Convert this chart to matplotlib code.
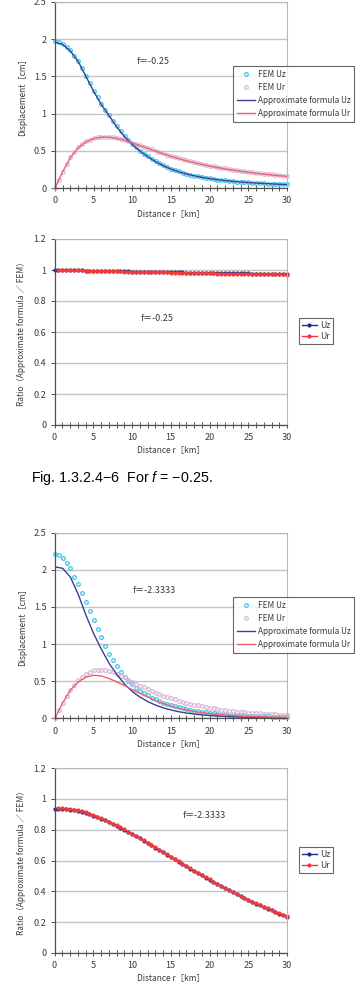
"""
Displacement comparison: FEM vs approximate formula, for f = -0.25 and f = -2.3333
"""

import numpy as np
import matplotlib
matplotlib.use("Agg")
import matplotlib.pyplot as plt

plt.rcParams["font.family"] = ["Noto Sans CJK JP", "DejaVu Sans"]
plt.rcParams["mathtext.fontset"] = "custom"
plt.rcParams["mathtext.rm"] = "Liberation Sans"
plt.rcParams["mathtext.it"] = "Liberation Sans:italic"

# distance grids (km)
DIST_FEM = np.arange(0, 30.5, 0.5)
DIST_APX = np.arange(0, 31, 1.0)

# ---- f = -0.25 ----
fem_uz_a = [1.97, 1.96, 1.94, 1.90, 1.85, 1.78, 1.71, 1.61, 1.51, 1.41,
            1.31, 1.22, 1.13, 1.05, 0.98, 0.90, 0.83, 0.76, 0.70, 0.645,
            0.59, 0.545, 0.50, 0.46, 0.425, 0.39, 0.36, 0.33, 0.305, 0.28,
            0.258, 0.24, 0.222, 0.207, 0.192, 0.179, 0.167, 0.156, 0.146, 0.137,
            0.129, 0.121, 0.114, 0.108, 0.102, 0.097, 0.092, 0.087, 0.083, 0.079,
            0.075, 0.072, 0.068, 0.065, 0.062, 0.059, 0.057, 0.054, 0.052, 0.050, 0.048]
fem_ur_a = [0.0, 0.11, 0.22, 0.32, 0.41, 0.48, 0.545, 0.59, 0.625, 0.65,
            0.67, 0.68, 0.687, 0.69, 0.687, 0.68, 0.67, 0.657, 0.643, 0.627,
            0.61, 0.592, 0.574, 0.556, 0.537, 0.519, 0.50, 0.483, 0.465, 0.448,
            0.432, 0.416, 0.401, 0.386, 0.372, 0.359, 0.346, 0.334, 0.322, 0.311,
            0.30, 0.29, 0.281, 0.272, 0.263, 0.255, 0.247, 0.239, 0.232, 0.225,
            0.218, 0.211, 0.205, 0.199, 0.193, 0.188, 0.182, 0.177, 0.172, 0.167, 0.162]
apx_uz_a = [1.96, 1.93, 1.84, 1.70, 1.50, 1.30, 1.12, 0.97, 0.82, 0.69,
            0.585, 0.495, 0.42, 0.355, 0.30, 0.254, 0.218, 0.188, 0.164, 0.143,
            0.126, 0.111, 0.099, 0.089, 0.080, 0.073, 0.066, 0.060, 0.055, 0.050, 0.046]
apx_ur_a = [0.0, 0.22, 0.41, 0.54, 0.62, 0.665, 0.683, 0.682, 0.667, 0.642,
            0.605, 0.57, 0.532, 0.495, 0.46, 0.425, 0.395, 0.366, 0.34, 0.316,
            0.295, 0.275, 0.257, 0.24, 0.225, 0.211, 0.198, 0.186, 0.175, 0.165, 0.156]
rat_uz_a = [1.000, 1.000, 0.999, 0.999, 0.998, 0.998, 0.997, 0.997, 0.996, 0.996,
            0.995, 0.995, 0.994, 0.994, 0.993, 0.993, 0.992, 0.992, 0.991, 0.991,
            0.990, 0.990, 0.989, 0.989, 0.988, 0.988, 0.987, 0.987, 0.986, 0.986,
            0.985, 0.985, 0.984, 0.984, 0.983, 0.983, 0.982, 0.982, 0.982, 0.981,
            0.981, 0.981, 0.980, 0.980, 0.980, 0.979, 0.979, 0.979, 0.978, 0.978,
            0.978, 0.977, 0.977, 0.977, 0.977, 0.976, 0.976, 0.976, 0.976, 0.975, 0.975]
rat_ur_a = [1.000, 0.999, 0.999, 0.998, 0.998, 0.997, 0.997, 0.996, 0.996, 0.995,
            0.995, 0.994, 0.993, 0.993, 0.992, 0.992, 0.991, 0.990, 0.990, 0.989,
            0.989, 0.988, 0.987, 0.987, 0.986, 0.986, 0.985, 0.985, 0.984, 0.983,
            0.983, 0.982, 0.982, 0.981, 0.981, 0.980, 0.980, 0.979, 0.979, 0.978,
            0.978, 0.977, 0.977, 0.976, 0.976, 0.975, 0.975, 0.975, 0.974, 0.974,
            0.973, 0.973, 0.973, 0.972, 0.972, 0.972, 0.971, 0.971, 0.971, 0.970]

# ---- f = -2.3333 ----
fem_uz_b = [2.21, 2.20, 2.16, 2.09, 2.02, 1.91, 1.81, 1.69, 1.57, 1.44,
            1.32, 1.20, 1.09, 0.98, 0.87, 0.78, 0.70, 0.63, 0.56, 0.50,
            0.46, 0.41, 0.37, 0.34, 0.31, 0.28, 0.255, 0.232, 0.212, 0.194,
            0.178, 0.163, 0.149, 0.136, 0.125, 0.115, 0.105, 0.097, 0.089, 0.082,
            0.076, 0.070, 0.064, 0.059, 0.055, 0.051, 0.047, 0.044, 0.041, 0.038,
            0.035, 0.033, 0.031, 0.029, 0.027, 0.025, 0.024, 0.022, 0.021, 0.020, 0.019]
fem_ur_b = [0.0, 0.11, 0.21, 0.30, 0.38, 0.45, 0.51, 0.56, 0.60, 0.63,
            0.645, 0.655, 0.655, 0.65, 0.64, 0.625, 0.60, 0.575, 0.55, 0.52,
            0.49, 0.465, 0.44, 0.415, 0.39, 0.367, 0.345, 0.325, 0.305, 0.287,
            0.27, 0.254, 0.239, 0.224, 0.21, 0.197, 0.185, 0.174, 0.163, 0.152,
            0.142, 0.133, 0.125, 0.117, 0.110, 0.103, 0.097, 0.091, 0.086, 0.081,
            0.077, 0.073, 0.069, 0.065, 0.062, 0.059, 0.056, 0.053, 0.051, 0.049, 0.047]
apx_uz_b = [2.04, 2.02, 1.90, 1.67, 1.39, 1.14, 0.93, 0.74, 0.59, 0.46,
            0.36, 0.285, 0.225, 0.178, 0.14, 0.112, 0.089, 0.071, 0.057, 0.046,
            0.037, 0.030, 0.025, 0.020, 0.017, 0.014, 0.012, 0.010, 0.008, 0.007, 0.006]
apx_ur_b = [0.0, 0.21, 0.38, 0.49, 0.555, 0.58, 0.57, 0.535, 0.49, 0.44,
            0.385, 0.335, 0.285, 0.24, 0.20, 0.165, 0.137, 0.113, 0.093, 0.077,
            0.064, 0.053, 0.044, 0.037, 0.031, 0.026, 0.022, 0.019, 0.016, 0.014, 0.012]
rat_uz_b = [0.933, 0.934, 0.934, 0.932, 0.929, 0.925, 0.920, 0.914, 0.907, 0.899,
            0.890, 0.881, 0.871, 0.860, 0.849, 0.837, 0.825, 0.812, 0.799, 0.785,
            0.771, 0.757, 0.743, 0.728, 0.713, 0.698, 0.683, 0.668, 0.653, 0.638,
            0.622, 0.607, 0.592, 0.577, 0.562, 0.547, 0.532, 0.518, 0.503, 0.489,
            0.475, 0.461, 0.447, 0.433, 0.420, 0.407, 0.394, 0.381, 0.368, 0.356,
            0.344, 0.332, 0.320, 0.309, 0.298, 0.287, 0.276, 0.265, 0.255, 0.245, 0.235]
rat_ur_b = [0.940, 0.939, 0.937, 0.934, 0.930, 0.925, 0.919, 0.912, 0.904, 0.895,
            0.885, 0.875, 0.864, 0.852, 0.840, 0.828, 0.815, 0.802, 0.788, 0.774,
            0.759, 0.745, 0.730, 0.715, 0.700, 0.685, 0.670, 0.655, 0.640, 0.624,
            0.609, 0.594, 0.579, 0.564, 0.549, 0.534, 0.520, 0.505, 0.491, 0.477,
            0.463, 0.449, 0.435, 0.422, 0.409, 0.396, 0.383, 0.370, 0.358, 0.346,
            0.334, 0.322, 0.311, 0.300, 0.289, 0.278, 0.267, 0.257, 0.247, 0.237]

DISP_TICKS = [0, 0.5, 1, 1.5, 2, 2.5]
DISP_TICKLABELS = ["0", "0.5", "1", "1.5", "2", "2.5"]
RATIO_TICKS = [0, 0.2, 0.4, 0.6, 0.8, 1.0, 1.2]
RATIO_TICKLABELS = ["0", "0.2", "0.4", "0.6", "0.8", "1", "1.2"]
X_TICKS = [0, 5, 10, 15, 20, 25, 30]

C_FEM_UZ = "#3cc4ec"
C_FEM_UR = "#d9b6d6"
C_APX_UZ = "#3a3f94"
C_APX_UR = "#f0606a"
C_RAT_UZ = "#1f2a8a"
C_RAT_UR = "#f03a3a"
TXT = "#3a3a3a"

W, H = 364, 984


def ax_box(left, right, top, bottom):
    return [left / W, 1 - bottom / H, (right - left) / W, (bottom - top) / H]


def style_axes(ax, yticks, yticklabels, ymax, ylabel):
    ax.set_xlim(0, 30)
    ax.set_ylim(0, ymax)
    ax.set_xticks(X_TICKS)
    ax.set_xticks(np.arange(0, 31, 1), minor=True)
    ax.set_yticks(yticks)
    ax.set_yticklabels(yticklabels)
    ax.grid(axis="y", color="#c4c4c4", linewidth=1.0)
    ax.set_axisbelow(True)
    for side in ("top", "right"):
        ax.spines[side].set_color("#b8b8b8")
        ax.spines[side].set_linewidth(0.8)
    for side in ("left", "bottom"):
        ax.spines[side].set_color("#505050")
        ax.spines[side].set_linewidth(0.9)
    ax.tick_params(axis="x", which="both", direction="inout", length=4, width=0.7,
                   color="#505050", labelsize=6.5, labelcolor=TXT, pad=4)
    ax.tick_params(axis="y", which="major", direction="out", length=3, width=0.7,
                   color="#505050", labelsize=6.5, labelcolor=TXT, pad=3)
    ax.set_xlabel("Distance r［km］", fontsize=6, color=TXT, labelpad=3)
    ax.set_ylabel(ylabel, fontsize=6, color=TXT, labelpad=5)


def disp_panel(fig, box, fem_uz, fem_ur, apx_uz, apx_ur, label, label_pos, leg_anchor):
    ax = fig.add_axes(box)
    ax.plot(DIST_FEM, fem_uz, "o", ms=2.6, mfc="none", mec=C_FEM_UZ, mew=0.9,
            label="FEM Uz", clip_on=False)
    ax.plot(DIST_FEM, fem_ur, "o", ms=2.6, mfc="none", mec=C_FEM_UR, mew=0.9,
            label="FEM Ur", clip_on=False)
    ax.plot(DIST_APX, apx_uz, color=C_APX_UZ, lw=1.0, label="Approximate formula Uz")
    ax.plot(DIST_APX, apx_ur, color=C_APX_UR, lw=1.0, label="Approximate formula Ur")
    style_axes(ax, DISP_TICKS, DISP_TICKLABELS, 2.5, "Displacement［cm］")
    ax.text(label_pos[0], label_pos[1], label, transform=ax.transAxes,
            fontsize=6.5, color=TXT, va="center", ha="left")
    leg = ax.legend(loc="upper left", bbox_to_anchor=leg_anchor,
                    bbox_transform=fig.transFigure, fontsize=5.9, frameon=True,
                    fancybox=False, edgecolor="#404040", handlelength=2.2,
                    handletextpad=0.4, borderpad=0.45, labelspacing=0.5,
                    borderaxespad=0, labelcolor=TXT)
    leg.get_frame().set_linewidth(0.8)
    leg.set_zorder(10)
    return ax


def ratio_panel(fig, box, rat_uz, rat_ur, label, label_pos, leg_anchor):
    ax = fig.add_axes(box)
    ax.plot(DIST_FEM, rat_uz, "-o", color=C_RAT_UZ, lw=1.0, ms=2.0, label="Uz",
            clip_on=False)
    ax.plot(DIST_FEM[1:], rat_ur, "-o", color=C_RAT_UR, lw=1.0, ms=2.0, label="Ur",
            clip_on=False)
    style_axes(ax, RATIO_TICKS, RATIO_TICKLABELS, 1.2,
               "Ratio（Approximate formula ／ FEM）")
    ax.text(label_pos[0], label_pos[1], label, transform=ax.transAxes,
            fontsize=6.5, color=TXT, va="center", ha="left")
    leg = ax.legend(loc="upper left", bbox_to_anchor=leg_anchor,
                    bbox_transform=fig.transFigure, fontsize=6.2, frameon=True,
                    fancybox=False, edgecolor="#404040", handlelength=1.8,
                    handletextpad=0.3, borderpad=0.3, labelspacing=0.3,
                    borderaxespad=0, labelcolor=TXT)
    leg.get_frame().set_linewidth(0.8)
    return ax


fig = plt.figure(figsize=(W / 100, H / 100), dpi=100)
fig.patch.set_facecolor("white")

disp_panel(fig, ax_box(55, 287, 2, 188), fem_uz_a, fem_ur_a, apx_uz_a, apx_ur_a,
           "f＝-0.25", (0.353, 0.679), (233 / W, 1 - 66 / H))
ratio_panel(fig, ax_box(54.5, 287, 239, 425), rat_uz_a, rat_ur_a,
            "f＝-0.25", (0.369, 0.575), (299 / W, 1 - 318 / H))

fig.text(31 / W, 1 - 478 / H, "Fig. 1.3.2.4\u22126  For $\\it{f}$ = \u22120.25.",
         fontsize=10.3, family="Liberation Sans", color="black", va="center", ha="left")

disp_panel(fig, ax_box(55, 287, 532.7, 718.3), fem_uz_b, fem_ur_b, apx_uz_b, apx_ur_b,
           "f＝-2.3333", (0.336, 0.686), (233 / W, 1 - 597 / H))
ratio_panel(fig, ax_box(54.5, 287, 768, 953), rat_uz_b, rat_ur_b,
            "f＝-2.3333", (0.553, 0.741), (299 / W, 1 - 847 / H))

fig.savefig("out.png", dpi=100, facecolor="white")
